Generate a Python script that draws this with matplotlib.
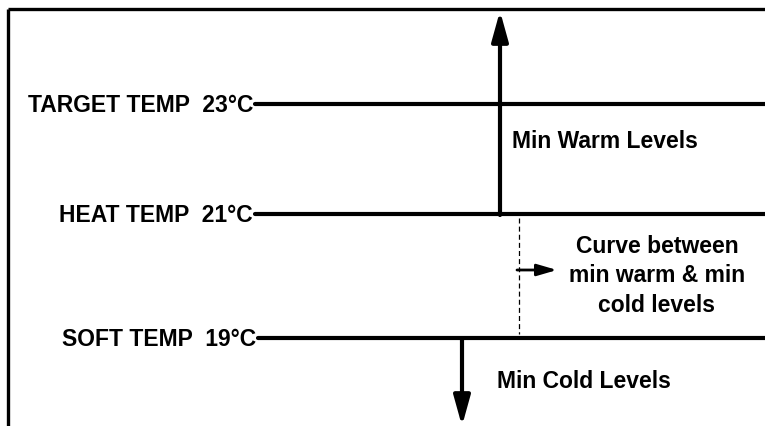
import matplotlib.pyplot as plt

# levels shown on the diagram
level_names = ['TARGET TEMP', 'HEAT TEMP', 'SOFT TEMP']
level_temps = [23, 21, 19]
zone_labels = ['Min Warm Levels', 'Curve between\nmin warm & min\ncold levels', 'Min Cold Levels']

# layout (pixel-like coordinates, y grows downward)
level_y = [104, 214, 338]
line_x0 = [255, 255, 258]

plt.rcParams['font.family'] = ['Liberation Sans', 'DejaVu Sans']
fs = 16.5

fig = plt.figure(figsize=(7.65, 4.26), dpi=100)
ax = fig.add_axes([0, 0, 1, 1])
ax.set_xlim(0, 765)
ax.set_ylim(426, 0)
ax.axis('off')

# frame: top and left edges only
ax.plot([8, 765], [9, 9], color='black', lw=2.4, solid_capstyle='butt')
ax.plot([8, 8], [9, 426], color='black', lw=2.4, solid_capstyle='butt')

for name, t, y, x0 in zip(level_names, level_temps, level_y, line_x0):
    ax.plot([x0, 765], [y, y], color='black', lw=3, solid_capstyle='round')
    ax.text(x0 - 2, y + 1, f'{name}  {t}°C', ha='right', va='center',
            fontsize=fs, fontweight='bold')

# arrow up from heat to top
ax.annotate('', xy=(500, 11), xytext=(500, level_y[1] + 1),
            arrowprops=dict(arrowstyle='-|>,head_length=1.8,head_width=0.5',
                            lw=3, color='black', shrinkA=0, shrinkB=0))
# arrow down from soft to bottom
ax.annotate('', xy=(462, 426), xytext=(462, level_y[2]),
            arrowprops=dict(arrowstyle='-|>,head_length=1.8,head_width=0.5',
                            lw=3, color='black', shrinkA=0, shrinkB=0))

# dashed divider
ax.plot([519, 519], [level_y[1] + 4, level_y[2] - 4], color='black', lw=0.9,
        dashes=(4, 2.5))
ax.annotate('', xy=(557, 270), xytext=(517, 270),
            arrowprops=dict(arrowstyle='-|>,head_length=1.2,head_width=0.35',
                            lw=2, color='black', shrinkA=0, shrinkB=0))

ax.text(512, 142, zone_labels[0], ha='left', va='center', fontsize=fs,
        fontweight='bold')
ax.text(657, 276, zone_labels[1], ha='center', va='center', fontsize=fs,
        fontweight='bold', linespacing=1.35)
ax.text(497, 382, zone_labels[2], ha='left', va='center', fontsize=fs,
        fontweight='bold')

fig.savefig('out.png', dpi=100)
